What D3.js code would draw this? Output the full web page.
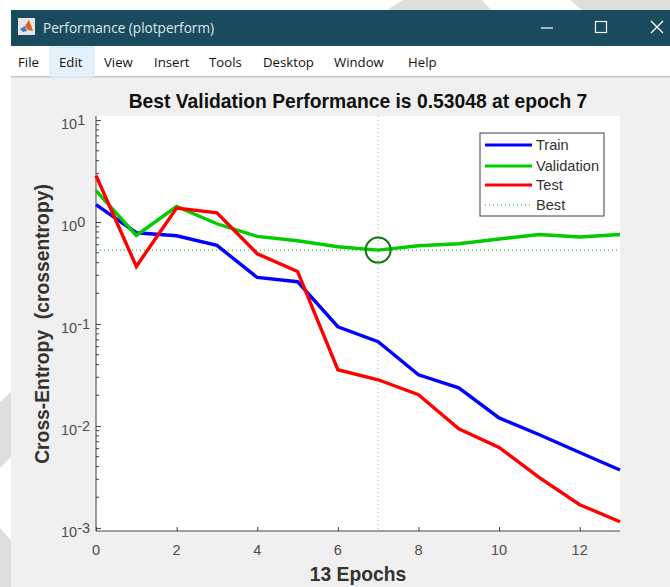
<!DOCTYPE html>
<html>
<head>
<meta charset="utf-8">
<script src="https://cdn.jsdelivr.net/npm/d3@7"></script>
<style>
  html, body { margin: 0; padding: 0; background: #fff; overflow: hidden; }
  text { font-family: "Liberation Sans", Arial, sans-serif; }
  .ui { font-family: "Open Sans", "Noto Sans", sans-serif; }
</style>
</head>
<body>
<div id="chart"></div>
<script>
// values
const epochs = [0, 1, 2, 3, 4, 5, 6, 7, 8, 9, 10, 11, 12, 13];
const train = [1.48, 0.785, 0.734, 0.59, 0.286, 0.26, 0.094, 0.067, 0.0318, 0.0237, 0.012, 0.0082, 0.0055, 0.0037];
const validation = [2.03, 0.739, 1.42, 0.962, 0.723, 0.656, 0.573, 0.53048, 0.586, 0.612, 0.681, 0.755, 0.713, 0.755];
const test = [2.86, 0.367, 1.37, 1.23, 0.489, 0.328, 0.0356, 0.0284, 0.0203, 0.0094, 0.00617, 0.00311, 0.00169, 0.00115];
const bestEpoch = 7;
const bestValue = 0.53048;
const xTicks = [0, 2, 4, 6, 8, 10, 12];
const yDecades = [1, 0, -1, -2, -3];
const menuItems = ["File", "Edit", "View", "Insert", "Tools", "Desktop", "Window", "Help"];
const menuX = [18, 59, 104, 154, 209, 263, 334, 408];
const legendNames = ["Train", "Validation", "Test", "Best"];

const width = 670, height = 587;
const svg = d3.select("#chart").append("svg")
  .attr("width", width)
  .attr("height", height)
  .style("display", "block");

// grey shapes of the page behind the window
const backdrop = [
  [[387, 10], [403, 0], [482, 0], [491, 10]],
  [[570, 0], [582, 10], [670, 10], [670, 0]],
  [[11, 392], [0, 402], [0, 468], [11, 457]],
  [[0, 528], [11, 540], [11, 587], [0, 587]]
];
svg.selectAll(".backdrop").data(backdrop).join("path")
  .attr("d", d => d3.line()(d) + "Z")
  .attr("fill", "#dedede");

// window chrome
svg.append("rect").attr("x", 11).attr("y", 10).attr("width", 659).attr("height", 577).attr("fill", "#f0f0f0");
svg.append("rect").attr("x", 11).attr("y", 10).attr("width", 659).attr("height", 36).attr("fill", "#1a4a5e");
svg.append("rect").attr("x", 11).attr("y", 46).attr("width", 659).attr("height", 31).attr("fill", "#fff");
svg.append("rect").attr("x", 11).attr("y", 76).attr("width", 659).attr("height", 1.5).attr("fill", "#c8c8c8");
svg.append("rect").attr("x", 50).attr("y", 47).attr("width", 44).attr("height", 30).attr("fill", "#e5f1fb").attr("stroke", "#cce4f7");

svg.append("text").attr("class", "ui").attr("x", 43).attr("y", 33).attr("fill", "#dfe8ec").attr("font-size", 13.6).text("Performance (plotperform)");
svg.selectAll(".menu").data(menuItems).join("text")
  .attr("class", "ui")
  .attr("x", (d, i) => menuX[i])
  .attr("y", 67)
  .attr("fill", "#111")
  .attr("font-size", 13.2)
  .text(d => d);

// window buttons
const chrome = svg.append("g").attr("stroke", "#fff").attr("fill", "none").attr("stroke-width", 1.2);
chrome.append("line").attr("x1", 541).attr("x2", 553).attr("y1", 28).attr("y2", 28);
chrome.append("rect").attr("x", 595.5).attr("y", 21.5).attr("width", 11).attr("height", 11);
chrome.append("line").attr("x1", 651).attr("x2", 663).attr("y1", 21).attr("y2", 33);
chrome.append("line").attr("x1", 663).attr("x2", 651).attr("y1", 21).attr("y2", 33);

// matlab icon
svg.append("rect").attr("x", 18).attr("y", 18).attr("width", 17).attr("height", 17).attr("fill", "#e6e6e6");
svg.append("path").attr("d", d3.line()([[20, 29], [25, 26], [27, 31], [23, 32]])).attr("fill", "#3f7fc0");
svg.append("path").attr("d", d3.line()([[25, 26], [29, 20], [33, 31], [28, 30]])).attr("fill", "#e0601c");

// axes
const plot = { left: 96, right: 620, top: 116, bottom: 531 };
const x = d3.scaleLinear().domain([0, 13]).range([plot.left, plot.right]);
const y = d3.scaleLog().domain([Math.pow(10, -3.03), Math.pow(10, 1.04)]).range([plot.bottom, plot.top]);

svg.append("rect").attr("x", plot.left).attr("y", plot.top)
  .attr("width", plot.right - plot.left).attr("height", plot.bottom - plot.top).attr("fill", "#fff");

const xAxis = d3.axisBottom(x).tickValues(xTicks).tickSize(-4).tickFormat("");
const gx = svg.append("g").attr("transform", `translate(0,${plot.bottom})`).call(xAxis);
gx.selectAll("path").attr("stroke", "#404040").attr("stroke-width", 1).attr("d", `M${plot.left},0H${plot.right}`);
gx.selectAll("line").attr("stroke", "#404040");

const minorTicks = [];
yDecades.slice(1).forEach(e => {
  d3.range(2, 10).forEach(m => minorTicks.push(m * Math.pow(10, e)));
});
const gy = svg.append("g").attr("transform", `translate(${plot.left},0)`)
  .call(d3.axisLeft(y).tickValues(yDecades.map(e => Math.pow(10, e))).tickSize(-5).tickFormat(""));
gy.selectAll("path").attr("stroke", "#404040").attr("d", `M0,${plot.top}V${plot.bottom}`);
gy.selectAll("line").attr("stroke", "#404040");
gy.selectAll(".minor").data(minorTicks).join("line")
  .attr("x1", 0).attr("x2", 3)
  .attr("y1", d => y(d)).attr("y2", d => y(d))
  .attr("stroke", "#404040");

// tick labels
svg.selectAll(".xlab").data(xTicks).join("text")
  .attr("x", d => x(d)).attr("y", 555)
  .attr("text-anchor", "middle").attr("fill", "#4d4d4d").attr("font-size", 14.5)
  .text(d => d);
const yLabels = svg.selectAll(".ylab").data(yDecades).join("text")
  .attr("x", 61).attr("y", d => y(Math.pow(10, d)) + 9)
  .attr("fill", "#4d4d4d").attr("font-size", 14.5);
yLabels.append("tspan").text("10");
yLabels.append("tspan").attr("dy", -4).attr("font-size", 14.5).text(d => d);

// best lines
const bestColor = "#00b400";
svg.append("line").attr("x1", plot.left).attr("x2", plot.right).attr("y1", y(bestValue)).attr("y2", y(bestValue))
  .attr("stroke", bestColor).attr("stroke-width", 1).attr("stroke-dasharray", "1 3");
svg.append("line").attr("x1", x(bestEpoch)).attr("x2", x(bestEpoch)).attr("y1", plot.top).attr("y2", plot.bottom)
  .attr("stroke", "#7fd07f").attr("stroke-width", 1).attr("stroke-dasharray", "1 3");

// series
const series = [
  { values: train, color: "#0000ff" },
  { values: validation, color: "#00cc00" },
  { values: test, color: "#ff0000" }
];
const line = d3.line().x((d, i) => x(epochs[i])).y(d => y(d));
svg.selectAll(".series").data(series).join("path")
  .attr("d", d => line(d.values))
  .attr("fill", "none")
  .attr("stroke", d => d.color)
  .attr("stroke-width", 3.4)
  .attr("stroke-linejoin", "miter");

svg.append("circle").attr("cx", x(bestEpoch)).attr("cy", y(bestValue)).attr("r", 12.5)
  .attr("fill", "none").attr("stroke", "#0a7a0a").attr("stroke-width", 2);

// legend
const legend = svg.append("g").attr("transform", "translate(480,133)");
legend.append("rect").attr("width", 124).attr("height", 83).attr("fill", "#fff").attr("stroke", "#404040");
const legendColors = ["#0000ff", "#00cc00", "#ff0000", bestColor];
legendNames.forEach((name, i) => {
  const ly = [12, 33, 52, 72][i];
  legend.append("line").attr("x1", 5).attr("x2", 52).attr("y1", ly).attr("y2", ly)
    .attr("stroke", legendColors[i])
    .attr("stroke-width", i === 3 ? 1 : 3.2)
    .attr("stroke-dasharray", i === 3 ? "1 3" : null);
  legend.append("text").attr("x", 56).attr("y", ly + 5).attr("fill", "#333").attr("font-size", 14.6).text(name);
});

// titles
svg.append("text").attr("x", 358).attr("y", 108).attr("text-anchor", "middle")
  .attr("font-size", 19.3).attr("font-weight", "bold").attr("fill", "#111")
  .text("Best Validation Performance is 0.53048 at epoch 7");
svg.append("text").attr("x", 358).attr("y", 581).attr("text-anchor", "middle")
  .attr("font-size", 19.3).attr("font-weight", "bold").attr("fill", "#333")
  .text("13 Epochs");
svg.append("text").attr("transform", "translate(49,324) rotate(-90)").attr("text-anchor", "middle")
  .attr("font-size", 19.3).attr("font-weight", "bold").attr("fill", "#333")
  .attr("xml:space", "preserve")
  .text("Cross-Entropy  (crossentropy)");
</script>
</body>
</html>
